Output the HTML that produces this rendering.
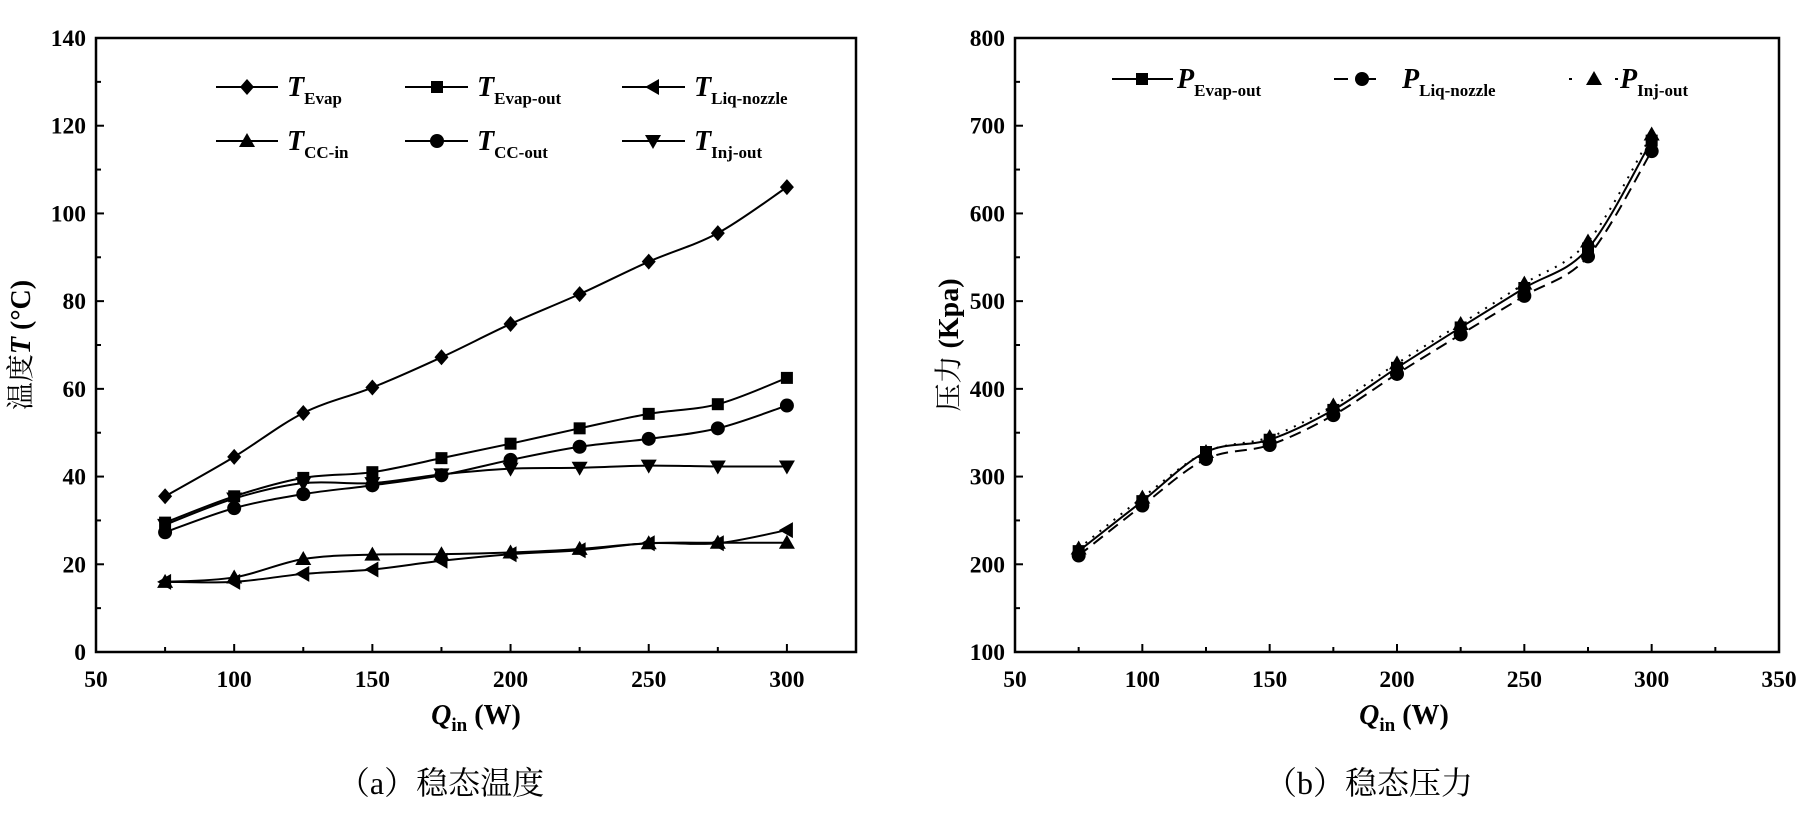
<!DOCTYPE html>
<html><head><meta charset="utf-8"><style>
html,body{margin:0;padding:0;background:#fff;}
svg{display:block;}
.tk{font-family:"Liberation Serif",serif;font-weight:bold;font-size:23.5px;}
.lg{font-family:"Liberation Serif",serif;font-weight:bold;}
.cap{font-family:"Liberation Serif","Noto Serif CJK SC",serif;font-size:32px;}
</style></head><body>
<svg id="svg" width="1813" height="822" viewBox="0 0 1813 822" xmlns="http://www.w3.org/2000/svg"></svg>
<script>
const qValues = [75,100,125,150,175,200,225,250,275,300];
const tEvap = [35.5,44.5,54.5,60.3,67.2,74.8,81.6,89,95.5,106];
const tEvapOut = [29.5,35.5,39.7,41,44.2,47.5,51,54.3,56.5,62.5];
const tLiqNozzle = [16,16,17.8,18.8,20.8,22.3,23.2,24.8,24.8,27.8];
const tCCin = [16,17,21.2,22.2,22.3,22.7,23.5,24.8,24.9,24.9];
const tCCout = [27.3,32.8,36,38,40.3,43.8,46.8,48.6,51,56.2];
const tInjOut = [29,35,38.5,38.5,40.5,41.8,42,42.5,42.3,42.3];
const pEvapOut = [215,272,328,342,376,424,470,515,560,683];
const pLiqNozzle = [210,267,320,336,370,417,462,506,551,671];
const pInjOut = [218,276,328,345,381,429,474,520,568,690];
const xTicksA = [50,100,150,200,250,300];
const yTicksA = [0,20,40,60,80,100,120,140];
const xTicksB = [50,100,150,200,250,300,350];
const yTicksB = [100,200,300,400,500,600,700,800];

const NS="http://www.w3.org/2000/svg";
const svg=document.getElementById('svg');
function el(tag,attrs,parent){const e=document.createElementNS(NS,tag);for(const k in attrs)e.setAttribute(k,attrs[k]);(parent||svg).appendChild(e);return e;}

function scale(d0,d1,r0,r1){return v=>r0+(v-d0)/(d1-d0)*(r1-r0);}
function spline(pts){
  let d=`M${pts[0][0]},${pts[0][1]}`;
  for(let i=0;i<pts.length-1;i++){
    const p0=pts[Math.max(0,i-1)],p1=pts[i],p2=pts[i+1],p3=pts[Math.min(pts.length-1,i+2)];
    const c1=[p1[0]+(p2[0]-p0[0])/6,p1[1]+(p2[1]-p0[1])/6];
    const c2=[p2[0]-(p3[0]-p1[0])/6,p2[1]-(p3[1]-p1[1])/6];
    d+=` C${c1[0]},${c1[1]} ${c2[0]},${c2[1]} ${p2[0]},${p2[1]}`;
  }
  return d;
}
function marker(type,x,y,g,name){
  let m;const s=7;
  if(type==='diamond') m=el('polygon',{points:`${x},${y-s-1} ${x+s},${y} ${x},${y+s+1} ${x-s},${y}`,fill:'#000'},g);
  else if(type==='square') m=el('rect',{x:x-6,y:y-6,width:12,height:12,fill:'#000'},g);
  else if(type==='circle') m=el('circle',{cx:x,cy:y,r:7,fill:'#000'},g);
  else if(type==='up') m=el('polygon',{points:`${x},${y-8} ${x+8},${y+6} ${x-8},${y+6}`,fill:'#000'},g);
  else if(type==='down') m=el('polygon',{points:`${x},${y+8} ${x+8},${y-6} ${x-8},${y-6}`,fill:'#000'},g);
  else if(type==='left') m=el('polygon',{points:`${x-8},${y} ${x+6},${y-8} ${x+6},${y+8}`,fill:'#000'},g);
  
  
  return m;
}
function axes(cfg){
  const {L,R,T,B,xs,ys,xTicks,yTicks,xMinor,yMinor,name}=cfg;
  const g=el('g',{});
  
  
  el('rect',{x:L,y:T,width:R-L,height:B-T,fill:'none',stroke:'#000','stroke-width':2.5},g);
  xTicks.forEach(v=>{const x=xs(v);
    el('line',{x1:x,y1:B,x2:x,y2:B-8,stroke:'#000','stroke-width':2},g);
    const t=el('text',{x:x,y:B+35,'text-anchor':'middle',class:'tk'},g);t.textContent=v;
    
    });
  xMinor.forEach(v=>{const x=xs(v);el('line',{x1:x,y1:B,x2:x,y2:B-5,stroke:'#000','stroke-width':2},g);});
  yTicks.forEach(v=>{const y=ys(v);
    el('line',{x1:L,y1:y,x2:L+8,y2:y,stroke:'#000','stroke-width':2},g);
    const t=el('text',{x:L-10,y:y+8,'text-anchor':'end',class:'tk'},g);t.textContent=v;
    
    });
  yMinor.forEach(v=>{const y=ys(v);el('line',{x1:L,y1:y,x2:L+5,y2:y,stroke:'#000','stroke-width':2},g);});
}
function series(xs,ys,vals,type,dash,name){
  const g=el('g',{});
  
  
  const pts=qValues.map((q,i)=>[xs(q),ys(vals[i])]);
  el('path',{d:spline(pts),fill:'none',stroke:'#000','stroke-width':2,'stroke-dasharray':dash||'none'},g);
  pts.forEach(p=>marker(type,p[0],p[1],g,name+'-point'));
}
function legendEntry(x1,x2,mx,y,type,dash,tx,sym,sub,name){
  const g=el('g',{});
  
  
  el('line',{x1:x1,y1:y,x2:x2,y2:y,stroke:'#000','stroke-width':2,'stroke-dasharray':dash||'none'},g);
  marker(type,mx,y,g,name+'-marker');
  const t=el('text',{x:tx,y:y+9,class:'lg'},g);
  t.innerHTML=`<tspan font-style="italic" font-size="28">${sym}</tspan><tspan font-size="17" dy="8">${sub}</tspan>`;
}
function textEl(x,y,cls,content,name,extra){
  const t=el('text',Object.assign({x:x,y:y,class:cls},extra||{}));
  t.innerHTML=content;
  
  
  return t;
}

// Chart A
(function(){
  const L=96,R=856,T=38,B=652;
  const xs=scale(50,325,L,R), ys=scale(0,140,B,T);
  const xMinor=[75,125,175,225,275,325], yMinor=[10,30,50,70,90,110,130];
  axes({L,R,T,B,xs,ys,xTicks:xTicksA,yTicks:yTicksA,xMinor,yMinor,name:'chart-a'});
  series(xs,ys,tEvap,'diamond',null,'series-t-evap');
  series(xs,ys,tEvapOut,'square',null,'series-t-evap-out');
  series(xs,ys,tLiqNozzle,'left',null,'series-t-liq-nozzle');
  series(xs,ys,tCCin,'up',null,'series-t-cc-in');
  series(xs,ys,tCCout,'circle',null,'series-t-cc-out');
  series(xs,ys,tInjOut,'down',null,'series-t-inj-out');
  legendEntry(216,278,247,87,'diamond',null,287,'T','Evap','legend-t-evap');
  legendEntry(405,468,437,87,'square',null,477,'T','Evap-out','legend-t-evap-out');
  legendEntry(622,685,653,87,'left',null,694,'T','Liq-nozzle','legend-t-liq-nozzle');
  legendEntry(216,278,247,141,'up',null,287,'T','CC-in','legend-t-cc-in');
  legendEntry(405,468,437,141,'circle',null,477,'T','CC-out','legend-t-cc-out');
  legendEntry(622,685,653,141,'down',null,694,'T','Inj-out','legend-t-inj-out');
  textEl(476,724,'lg','<tspan font-style="italic" font-size="28">Q</tspan><tspan font-size="19" dy="7">in</tspan><tspan font-size="28" dy="-7"> (W)</tspan>','x-axis-title-a',{'text-anchor':'middle'});
  textEl(0,0,'lg','<tspan font-family="Liberation Serif, Noto Serif CJK SC, serif" font-weight="normal" font-size="28">温度</tspan><tspan font-style="italic" font-size="28">T</tspan><tspan font-size="28"> (°C)</tspan>','y-axis-title-a',{'text-anchor':'middle',transform:'translate(30,345) rotate(-90)'});
  textEl(441,794,'cap','（a）稳态温度','caption-a',{'text-anchor':'middle'});
})();

// Chart B
(function(){
  const L=1015,R=1779,T=38,B=652;
  const xs=scale(50,350,L,R), ys=scale(100,800,B,T);
  const xMinor=[75,125,175,225,275,325], yMinor=[150,250,350,450,550,650,750];
  axes({L,R,T,B,xs,ys,xTicks:xTicksB,yTicks:yTicksB,xMinor,yMinor,name:'chart-b'});
  series(xs,ys,pLiqNozzle,'circle','12,7','series-p-liq-nozzle');
  series(xs,ys,pEvapOut,'square',null,'series-p-evap-out');
  series(xs,ys,pInjOut,'up','2,7','series-p-inj-out');
  legendEntry(1112,1173,1142,79,'square',null,1177,'P','Evap-out','legend-p-evap-out');
  legendEntry(1334,1382,1362,79,'circle','14,14',1402,'P','Liq-nozzle','legend-p-liq-nozzle');
  legendEntry(1569,1618,1594,79,'up','3,20',1620,'P','Inj-out','legend-p-inj-out');
  textEl(1404,724,'lg','<tspan font-style="italic" font-size="28">Q</tspan><tspan font-size="19" dy="7">in</tspan><tspan font-size="28" dy="-7"> (W)</tspan>','x-axis-title-b',{'text-anchor':'middle'});
  textEl(0,0,'lg','<tspan font-family="Liberation Serif, Noto Serif CJK SC, serif" font-weight="normal" font-size="28">压力</tspan><tspan font-size="28"> (Kpa)</tspan>','y-axis-title-b',{'text-anchor':'middle',transform:'translate(958,345) rotate(-90)'});
  textEl(1369,794,'cap','（b）稳态压力','caption-b',{'text-anchor':'middle'});
})();
</script>
</body></html>
